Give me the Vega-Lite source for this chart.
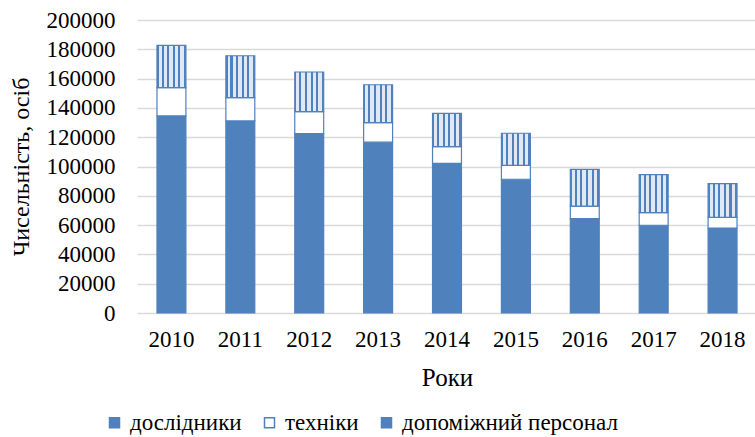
{
  "$schema": "https://vega.github.io/schema/vega-lite/v6.json",
  "width": 620,
  "height": 293,
  "autosize": {"type": "none"},
  "padding": {"left": 137, "top": 20, "right": 0, "bottom": 124},
  "config": {
    "view": {"stroke": null},
    "font": "Liberation Serif",
    "axis": {"labelFont": "Liberation Serif", "titleFont": "Liberation Serif", "labelColor": "#000", "titleColor": "#000", "titleFontWeight": "normal"},
    "legend": {"labelFont": "Liberation Serif", "labelColor": "#000"}
  },
  "data": {
    "values": [
      {"year": "2010", "cat": "дослідники", "o": 1, "v": 134500},
      {"year": "2010", "cat": "техніки", "o": 2, "v": 19300},
      {"year": "2010", "cat": "допоміжний персонал", "o": 3, "v": 28900},
      {"year": "2011", "cat": "дослідники", "o": 1, "v": 131100},
      {"year": "2011", "cat": "техніки", "o": 2, "v": 15900},
      {"year": "2011", "cat": "допоміжний персонал", "o": 3, "v": 28600},
      {"year": "2012", "cat": "дослідники", "o": 1, "v": 122400},
      {"year": "2012", "cat": "техніки", "o": 2, "v": 15000},
      {"year": "2012", "cat": "допоміжний персонал", "o": 3, "v": 27100},
      {"year": "2013", "cat": "дослідники", "o": 1, "v": 116600},
      {"year": "2013", "cat": "техніки", "o": 2, "v": 13300},
      {"year": "2013", "cat": "допоміжний персонал", "o": 3, "v": 25900},
      {"year": "2014", "cat": "дослідники", "o": 1, "v": 102200},
      {"year": "2014", "cat": "техніки", "o": 2, "v": 11300},
      {"year": "2014", "cat": "допоміжний персонал", "o": 3, "v": 22800},
      {"year": "2015", "cat": "дослідники", "o": 1, "v": 91300},
      {"year": "2015", "cat": "техніки", "o": 2, "v": 9500},
      {"year": "2015", "cat": "допоміжний персонал", "o": 3, "v": 21900},
      {"year": "2016", "cat": "дослідники", "o": 1, "v": 64400},
      {"year": "2016", "cat": "техніки", "o": 2, "v": 8600},
      {"year": "2016", "cat": "допоміжний персонал", "o": 3, "v": 25100},
      {"year": "2017", "cat": "дослідники", "o": 1, "v": 59900},
      {"year": "2017", "cat": "техніки", "o": 2, "v": 8600},
      {"year": "2017", "cat": "допоміжний персонал", "o": 3, "v": 25900},
      {"year": "2018", "cat": "дослідники", "o": 1, "v": 58000},
      {"year": "2018", "cat": "техніки", "o": 2, "v": 7300},
      {"year": "2018", "cat": "допоміжний персонал", "o": 3, "v": 23000}
    ]
  },
  "mark": {"type": "bar", "stroke": "#4f81bd", "strokeWidth": 1.2, "width": {"band": 0.42}},
  "encoding": {
    "x": {
      "field": "year", "type": "ordinal",
      "scale": {"paddingInner": 0, "paddingOuter": 0},
      "axis": {"title": "Роки", "labelAngle": 0, "labelFont": "Liberation Serif", "titleFont": "Liberation Serif", "labelFontSize": 23, "titleFontSize": 25, "labelPadding": 15, "titlePadding": 14, "ticks": false, "domain": false}
    },
    "y": {
      "field": "v", "type": "quantitative", "stack": "zero",
      "scale": {"domain": [0, 200000]},
      "axis": {"title": "Чисельність, осіб", "values": [0,20000,40000,60000,80000,100000,120000,140000,160000,180000,200000], "format": "d", "labelFont": "Liberation Serif", "titleFont": "Liberation Serif", "labelFontSize": 23, "titleFontSize": 24, "labelPadding": 22, "titlePadding": 13, "ticks": false, "domain": false, "gridColor": "#d9d9d9", "gridWidth": 1.5}
    },
    "order": {"field": "o", "type": "quantitative"},
    "fill": {
      "field": "cat", "type": "nominal",
      "condition": {
        "test": "datum.cat === 'допоміжний персонал'",
        "value": {"gradient": "linear", "x1": 0, "x2": 1, "y1": 0, "y2": 0, "stops": [
            {"offset": 0, "color": "#4f81bd"}, {"offset": 0.06, "color": "#4f81bd"},
            {"offset": 0.06, "color": "#dfe8f4"}, {"offset": 0.16, "color": "#dfe8f4"},
            {"offset": 0.16, "color": "#4f81bd"}, {"offset": 0.23, "color": "#4f81bd"},
            {"offset": 0.23, "color": "#dfe8f4"}, {"offset": 0.35, "color": "#dfe8f4"},
            {"offset": 0.35, "color": "#4f81bd"}, {"offset": 0.42, "color": "#4f81bd"},
            {"offset": 0.42, "color": "#dfe8f4"}, {"offset": 0.55, "color": "#dfe8f4"},
            {"offset": 0.55, "color": "#4f81bd"}, {"offset": 0.62, "color": "#4f81bd"},
            {"offset": 0.62, "color": "#dfe8f4"}, {"offset": 0.74, "color": "#dfe8f4"},
            {"offset": 0.74, "color": "#4f81bd"}, {"offset": 0.81, "color": "#4f81bd"},
            {"offset": 0.81, "color": "#dfe8f4"}, {"offset": 0.93, "color": "#dfe8f4"},
            {"offset": 0.93, "color": "#4f81bd"}, {"offset": 1, "color": "#4f81bd"}
        ]}
      },
      "scale": {
        "domain": ["дослідники", "техніки", "допоміжний персонал"],
        "range": ["#4f81bd", "#ffffff", "#4f81bd"]
      },
      "legend": {
        "title": null, "orient": "none", "direction": "horizontal",
        "legendX": -34, "legendY": 391,
        "symbolType": "square", "symbolSize": 100,
        "labelFont": "Liberation Serif", "labelFontSize": 23, "labelOffset": 4, "labelLimit": 400, "columnPadding": 16, "symbolOpacity": 1,
        "encode": {
          "symbols": {
            "stroke": {"value": "#4f81bd"},
            "strokeWidth": {"value": 1},
            "fill": [
              {"test": "datum.value === 'допоміжний персонал'", "value": {"gradient": "linear", "x1": 0, "x2": 1, "y1": 0, "y2": 0, "stops": [
                {"offset": 0, "color": "#4f81bd"}, {"offset": 0.22, "color": "#4f81bd"},
                {"offset": 0.22, "color": "#dfe8f4"}, {"offset": 0.4, "color": "#dfe8f4"},
                {"offset": 0.4, "color": "#4f81bd"}, {"offset": 0.6, "color": "#4f81bd"},
                {"offset": 0.6, "color": "#dfe8f4"}, {"offset": 0.78, "color": "#dfe8f4"},
                {"offset": 0.78, "color": "#4f81bd"}, {"offset": 1, "color": "#4f81bd"}
              ]}},
              {"test": "datum.value === 'техніки'", "value": {"gradient": "linear", "x1": 0, "x2": 1, "y1": 0, "y2": 0, "stops": [
                {"offset": 0, "color": "#ffffff"}, {"offset": 0.42, "color": "#ffffff"},
                {"offset": 0.42, "color": "#4f81bd"}, {"offset": 0.58, "color": "#4f81bd"},
                {"offset": 0.58, "color": "#ffffff"}, {"offset": 1, "color": "#ffffff"}
              ]}},
              {"value": "#4f81bd"}
            ]
          }
        }
      }
    }
  }
}
